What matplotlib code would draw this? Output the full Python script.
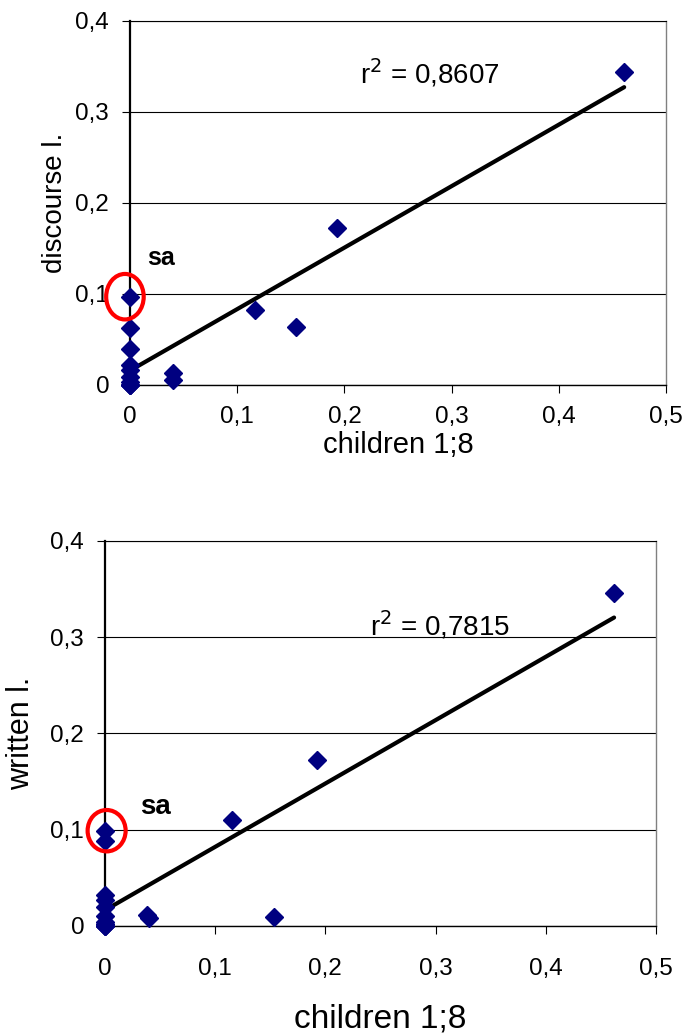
import numpy as np
import matplotlib
matplotlib.use("Agg")
import matplotlib.pyplot as plt
from matplotlib.patches import Ellipse
from matplotlib.ticker import FuncFormatter, MultipleLocator

plt.rcParams['font.family'] = ['Liberation Sans', 'DejaVu Sans']

# children 1;8 vs discourse l.
children_a = [0, 0, 0, 0, 0, 0, 0, 0, 0, 0, 0.040, 0.040, 0.117, 0.155, 0.193, 0.461]
discourse = [0.097, 0.063, 0.040, 0.022, 0.016, 0.009, 0.003, 0.0, 0.0, 0.0,
             0.013, 0.006, 0.082, 0.064, 0.173, 0.344]
r2_discourse = "0,8607"

# children 1;8 vs written l.
children_b = [0, 0, 0, 0, 0, 0, 0, 0, 0, 0, 0, 0.038, 0.040, 0.1155, 0.1536, 0.192, 0.462]
written = [0.099, 0.088, 0.032, 0.027, 0.020, 0.010, 0.004, 0.002, 0.0, 0.0, 0.0,
           0.011, 0.008, 0.110, 0.009, 0.172, 0.3455]
r2_written = "0,7815"

sa_discourse = (0, 0.097)
sa_written = (0, 0.099)


def comma_fmt(v, pos):
    if abs(v) < 1e-9:
        return "0"
    return f"{v:.1f}".replace(".", ",")


def draw_panel(ax, x, y, ylabel, r2_text, r2_pos, sa_pt, sa_text_pos, ell, lab):
    x = np.asarray(x)
    y = np.asarray(y)
    ax.set_xlim(0, 0.5)
    ax.set_ylim(0, 0.4)
    ax.xaxis.set_major_locator(MultipleLocator(0.1))
    ax.yaxis.set_major_locator(MultipleLocator(0.1))
    ax.xaxis.set_major_formatter(FuncFormatter(comma_fmt))
    ax.yaxis.set_major_formatter(FuncFormatter(comma_fmt))
    ax.grid(axis='y', color='black', linewidth=0.8)
    ax.set_axisbelow(True)
    ax.tick_params(direction='out', length=6, width=0.8, labelsize=17.5, pad=9)
    ax.tick_params(axis='x', pad=lab[4])

    ax.spines['left'].set_linewidth(1.6)
    ax.spines['bottom'].set_linewidth(1.0)
    ax.spines['top'].set_linewidth(0.8)
    ax.spines['right'].set_color('#808080')
    ax.spines['right'].set_linewidth(1.0)

    # linear trend
    slope, icpt = np.polyfit(x, y, 1)
    xs = np.array([0, x.max()])
    ax.plot(xs, icpt + slope * xs, color='black', lw=3, solid_capstyle='round', zorder=3)

    ax.plot(x, y, linestyle='none', marker='D', markersize=9, color='#000080',
            clip_on=False, zorder=4)

    ax.text(r2_pos[0], r2_pos[1], "r$^2$ = " + r2_text, fontsize=20,
            ha='center', va='center')
    ax.text(sa_text_pos[0], sa_text_pos[1], "sa", fontsize=ell[3], fontweight='bold',
            ha='center', va='center')
    ax.add_patch(Ellipse((sa_pt[0] + ell[0], sa_pt[1]), ell[1], ell[2], fill=False,
                         edgecolor='red', lw=3, clip_on=False, zorder=5))

    ax.set_xlabel("children 1;8", fontsize=lab[0], labelpad=lab[2])
    ax.set_ylabel(ylabel, fontsize=lab[1], labelpad=lab[3])


fig = plt.figure(figsize=(6.87, 10.36), dpi=100)
ax1 = fig.add_axes([0.1892, 0.6284, 0.7802, 0.3514])
ax2 = fig.add_axes([0.1528, 0.1062, 0.8020, 0.3716])

draw_panel(ax1, children_a, discourse, "discourse l.", r2_discourse, (0.28, 0.343),
           sa_discourse, (0.029, 0.140), (-0.0047, 0.035, 0.050, 18), (21, 20, 2, 5, 9))
draw_panel(ax2, children_b, written, "written l.", r2_written, (0.304, 0.3126),
           sa_written, (0.046, 0.124), (0.0015, 0.0345, 0.043, 20), (24, 22, 17, 10, 17))

fig.savefig("out.png", dpi=100)
